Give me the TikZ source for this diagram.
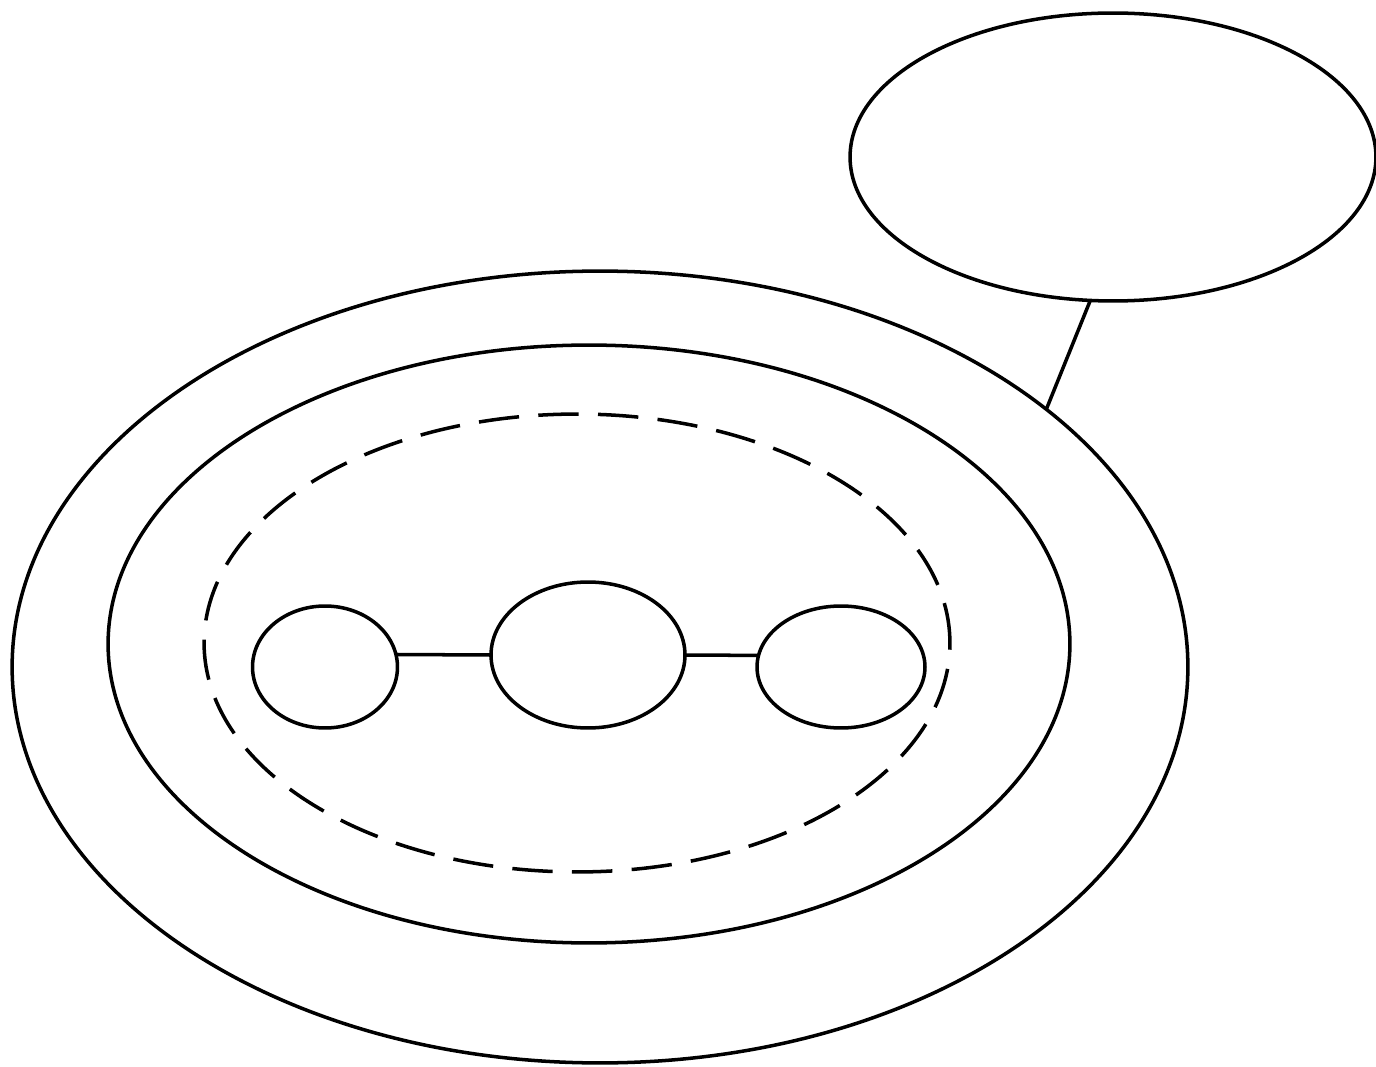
\documentclass[tikz,border=0pt]{standalone}
\usetikzlibrary{shapes.geometric}

\begin{document}
\begin{tikzpicture}[x=0.02cm, y=-0.02cm, line width=2pt,
    ring/.style={draw, ellipse, inner sep=0pt, outer sep=0pt},
    gap/.style={dash pattern=on 23pt off 11pt}]
  \useasboundingbox (0,0) rectangle (1376,1067);
  % outer rings
  \node[ring, minimum width=23.52cm, minimum height=15.84cm] (outer) at (600,667) {};
  \node[ring, minimum width=19.24cm, minimum height=11.96cm] (inner) at (589,644) {};
  \node[ring, gap, minimum width=14.92cm, minimum height=9.16cm] (group) at (577,643) {};
  % small ones inside
  \node[ring, minimum width=2.90cm, minimum height=2.44cm] (left) at (325,667) {};
  \node[ring, minimum width=3.88cm, minimum height=2.92cm] (mid) at (588,655) {};
  \node[ring, minimum width=3.36cm, minimum height=2.44cm] (right) at (841,667) {};
  % top right
  \node[ring, minimum width=10.52cm, minimum height=5.76cm] (top) at (1113,157) {};
  \draw (left.10) -- (mid.west);
  \draw (mid.east) -- (right.172);
  \draw (top.261) -- (outer.30);
\end{tikzpicture}
\end{document}
